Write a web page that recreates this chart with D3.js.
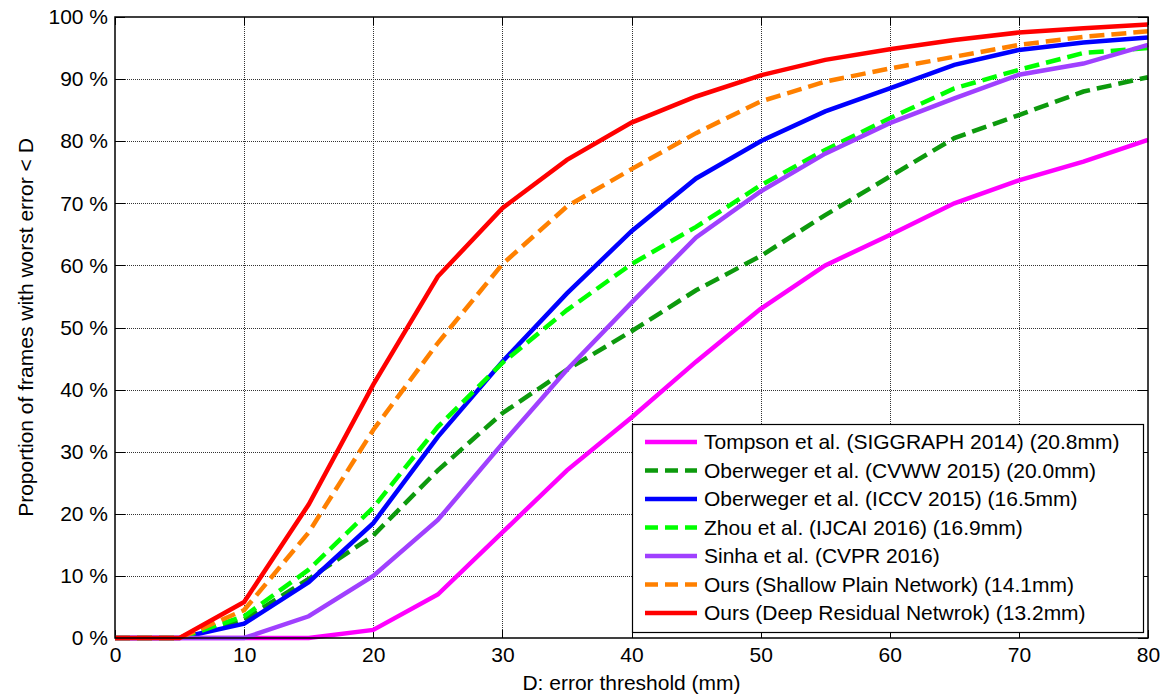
<!DOCTYPE html>
<html>
<head>
<meta charset="utf-8">
<script src="https://cdn.jsdelivr.net/npm/d3@7.9.0/dist/d3.min.js"></script>
<style>
  body { margin: 0; background: #fff; }
  svg { display: block; font-family: "Liberation Sans", Arial, sans-serif; }
</style>
</head>
<body>
<svg id="chart" width="1163" height="694"></svg>
<script>
// thresholds D (mm)
const thresholds = [0, 5, 10, 15, 20, 25, 30, 35, 40, 45, 50, 55, 60, 65, 70, 75, 80];
const xTicks = [0, 10, 20, 30, 40, 50, 60, 70, 80];
const yTicks = [0, 10, 20, 30, 40, 50, 60, 70, 80, 90, 100];

// proportion of frames (%) per method
const tompson   = [0, 0, 0, 0, 1.3, 7, 17, 27, 35.5, 44.5, 53, 60, 64.9, 70, 73.7, 76.7, 80.2];
const oberCVWW  = [0, 0, 3, 9.5, 16.5, 27, 36.2, 43.2, 49.4, 56, 61.5, 68.1, 74.3, 80.5, 84.2, 88, 90.3];
const oberICCV  = [0, 0, 2.3, 9, 18.5, 32.4, 44.5, 55.5, 65.5, 74, 80, 84.8, 88.5, 92.3, 94.7, 95.9, 96.7];
const zhou      = [0, 0, 3.5, 11, 21, 34, 44.3, 52.8, 60.2, 66.2, 72.9, 78.6, 83.7, 88.5, 91.5, 94.2, 95];
const sinha     = [0, 0, 0, 3.5, 10, 19, 31.3, 43.2, 54, 64.5, 71.9, 78, 82.9, 86.9, 90.7, 92.5, 95.5];
const shallow   = [0, 0, 4.5, 17, 33.5, 47.5, 60.2, 69.5, 75.5, 81.3, 86.4, 89.6, 91.7, 93.6, 95.5, 96.8, 97.7];
const deep      = [0, 0, 5.8, 21.5, 40.8, 58.2, 69.2, 77, 83, 87.2, 90.6, 93.1, 94.8, 96.3, 97.5, 98.2, 98.8];

const seriesNames = [
  'Tompson et al. (SIGGRAPH 2014) (20.8mm)',
  'Oberweger et al. (CVWW 2015) (20.0mm)',
  'Oberweger et al. (ICCV 2015) (16.5mm)',
  'Zhou et al. (IJCAI 2016) (16.9mm)',
  'Sinha et al. (CVPR 2016)',
  'Ours (Shallow Plain Network) (14.1mm)',
  'Ours (Deep Residual Netwrok) (13.2mm)'
];
const seriesValues = [tompson, oberCVWW, oberICCV, zhou, sinha, shallow, deep];
const seriesColors = ['#ff00ff', '#0d9a0d', '#0000ff', '#00ff00', '#a040ff', '#ff8000', '#ff0000'];
const seriesDashed = [false, true, false, true, false, true, false];

const FS = 21;
const svg = d3.select('#chart');
const margin = { left: 115, right: 15, top: 17, bottom: 56 };
const W = 1163, H = 694;
const x = d3.scaleLinear().domain([0, 80]).range([margin.left, W - margin.right]);
const y = d3.scaleLinear().domain([0, 100]).range([H - margin.bottom, margin.top]);

// grid
const grid = svg.append('g').attr('stroke', '#333').attr('stroke-width', 1).attr('stroke-dasharray', '1,1');
grid.selectAll('.gx').data(xTicks.slice(1, -1)).join('line')
  .attr('x1', d => Math.round(x(d)) + 0.5).attr('x2', d => Math.round(x(d)) + 0.5)
  .attr('y1', y(0)).attr('y2', y(100));
grid.selectAll('.gy').data(yTicks.slice(1, -1)).join('line')
  .attr('y1', d => Math.round(y(d)) + 0.5).attr('y2', d => Math.round(y(d)) + 0.5)
  .attr('x1', x(0)).attr('x2', x(80));

// axes
const xAxis = d3.axisBottom(x).tickValues(xTicks).tickSize(0).tickPadding(9);
const yAxis = d3.axisLeft(y).tickValues(yTicks).tickSize(0).tickPadding(7).tickFormat(d => d + ' %');
svg.append('g').attr('transform', `translate(0,${y(0)})`).call(xAxis)
  .call(g => g.select('.domain').remove())
  .selectAll('text').attr('font-size', FS).attr('fill', '#000').attr('font-family', 'Liberation Sans, Arial, sans-serif');
svg.append('g').attr('transform', `translate(${x(0)},0)`).call(yAxis)
  .call(g => g.select('.domain').remove())
  .selectAll('text').attr('font-size', FS).attr('fill', '#000').attr('font-family', 'Liberation Sans, Arial, sans-serif');

// inward tick marks on all sides
const tk = svg.append('g').attr('stroke', '#000').attr('stroke-width', 1);
xTicks.forEach(d => {
  const px = Math.round(x(d)) + 0.5;
  tk.append('line').attr('x1', px).attr('x2', px).attr('y1', y(0)).attr('y2', y(0) - 8);
  tk.append('line').attr('x1', px).attr('x2', px).attr('y1', y(100)).attr('y2', y(100) + 8);
});
yTicks.forEach(d => {
  const py = Math.round(y(d)) + 0.5;
  tk.append('line').attr('y1', py).attr('y2', py).attr('x1', x(0)).attr('x2', x(0) + 10);
  tk.append('line').attr('y1', py).attr('y2', py).attr('x1', x(80)).attr('x2', x(80) - 10);
});

// lines
const line = d3.line().x((d, i) => x(thresholds[i])).y(d => y(d));
svg.append('g').selectAll('path').data(seriesValues).join('path')
  .attr('d', d => line(d))
  .attr('fill', 'none')
  .attr('stroke', (d, i) => seriesColors[i])
  .attr('stroke-width', 4.5)
  .attr('stroke-dasharray', (d, i) => seriesDashed[i] ? '15,7' : null);

// frame
svg.append('rect')
  .attr('x', x(0)).attr('y', y(100))
  .attr('width', x(80) - x(0)).attr('height', y(0) - y(100))
  .attr('fill', 'none').attr('stroke', '#000').attr('stroke-width', 1.5);

// legend
const lg = svg.append('g');
lg.append('rect').attr('x', 632.5).attr('y', 424.5).attr('width', 511).attr('height', 208)
  .attr('fill', '#fff').attr('stroke', '#000').attr('stroke-width', 1.2);
const rows = lg.selectAll('.row').data(seriesNames).join('g')
  .attr('transform', (d, i) => `translate(0,${442 + i * 28.5})`);
rows.append('line').attr('x1', 645).attr('x2', 697).attr('y1', 0).attr('y2', 0)
  .attr('stroke', (d, i) => seriesColors[i]).attr('stroke-width', 4.5)
  .attr('stroke-dasharray', (d, i) => seriesDashed[i] ? '13,7' : null);
rows.append('text').attr('x', 704).attr('y', 0).attr('dy', '0.35em')
  .attr('font-size', FS).attr('fill', '#000').text(d => d);

// axis labels
svg.append('text').attr('x', (x(0) + x(80)) / 2).attr('y', 690)
  .attr('text-anchor', 'middle').attr('font-size', FS).text('D: error threshold (mm)');
svg.append('text').attr('transform', `translate(33,${(y(0) + y(100)) / 2}) rotate(-90)`)
  .attr('text-anchor', 'middle').attr('font-size', FS).text('Proportion of frames with worst error < D');
</script>
</body>
</html>
